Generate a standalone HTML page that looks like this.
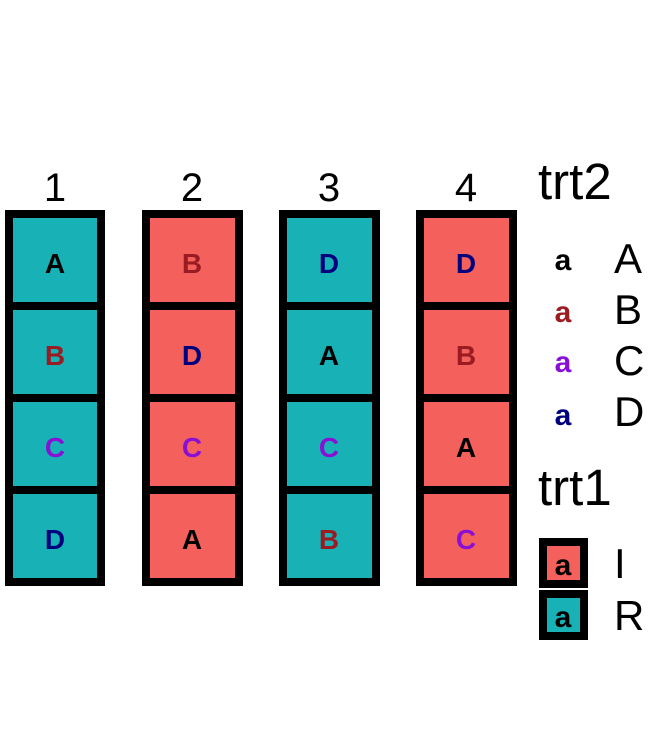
<!DOCTYPE html>
<html><head><style>body{margin:0;background:#fff}svg{display:block}</style></head><body>
<svg width="648" height="756" xmlns="http://www.w3.org/2000/svg" font-family="Liberation Sans, Arial, sans-serif">
<g font-size="40" text-anchor="middle" fill="#000">
<text x="55" y="201">1</text><text x="192" y="201">2</text><text x="329" y="201">3</text><text x="466" y="201">4</text>
</g>
<g stroke="#000" stroke-width="8">
<rect x="9" y="214" width="92" height="92" fill="#17B1B6"/><rect x="9" y="306" width="92" height="92" fill="#17B1B6"/><rect x="9" y="398" width="92" height="92" fill="#17B1B6"/><rect x="9" y="490" width="92" height="92" fill="#17B1B6"/>
<rect x="146" y="214" width="93" height="92" fill="#F4605C"/><rect x="146" y="306" width="93" height="92" fill="#F4605C"/><rect x="146" y="398" width="93" height="92" fill="#F4605C"/><rect x="146" y="490" width="93" height="92" fill="#F4605C"/>
<rect x="283" y="214" width="93" height="92" fill="#17B1B6"/><rect x="283" y="306" width="93" height="92" fill="#17B1B6"/><rect x="283" y="398" width="93" height="92" fill="#17B1B6"/><rect x="283" y="490" width="93" height="92" fill="#17B1B6"/>
<rect x="420" y="214" width="93" height="92" fill="#F4605C"/><rect x="420" y="306" width="93" height="92" fill="#F4605C"/><rect x="420" y="398" width="93" height="92" fill="#F4605C"/><rect x="420" y="490" width="93" height="92" fill="#F4605C"/>
</g>
<g font-size="28" font-weight="bold" text-anchor="middle">
<text x="55" y="273" fill="#000">A</text><text x="55" y="365" fill="#9B1B22">B</text><text x="55" y="457" fill="#8A0FD6">C</text><text x="55" y="549" fill="#00007F">D</text>
<text x="192" y="273" fill="#9B1B22">B</text><text x="192" y="365" fill="#00007F">D</text><text x="192" y="457" fill="#8A0FD6">C</text><text x="192" y="549" fill="#000">A</text>
<text x="329" y="273" fill="#00007F">D</text><text x="329" y="365" fill="#000">A</text><text x="329" y="457" fill="#8A0FD6">C</text><text x="329" y="549" fill="#9B1B22">B</text>
<text x="466" y="273" fill="#00007F">D</text><text x="466" y="365" fill="#9B1B22">B</text><text x="466" y="457" fill="#000">A</text><text x="466" y="549" fill="#8A0FD6">C</text>
</g>
<g font-size="51"><text x="538" y="199">trt2</text><text x="538" y="505">trt1</text></g>
<g font-size="30" font-weight="bold" text-anchor="middle">
<text x="563" y="270" fill="#000">a</text><text x="563" y="322" fill="#9B1B22">a</text><text x="563" y="372" fill="#8A0FD6">a</text><text x="563" y="425" fill="#00007F">a</text>
</g>
<g font-size="42"><text x="614" y="273">A</text><text x="614" y="324">B</text><text x="614" y="375">C</text><text x="614" y="426">D</text><text x="614" y="578">I</text><text x="614" y="630">R</text></g>
<g stroke="#000" stroke-width="8"><rect x="543" y="542" width="41" height="42" fill="#F4605C"/><rect x="543" y="594" width="41" height="42" fill="#17B1B6"/></g>
<g font-size="30" font-weight="bold" text-anchor="middle"><text x="563" y="575">a</text><text x="563" y="627">a</text></g>
</svg>
</body></html>
